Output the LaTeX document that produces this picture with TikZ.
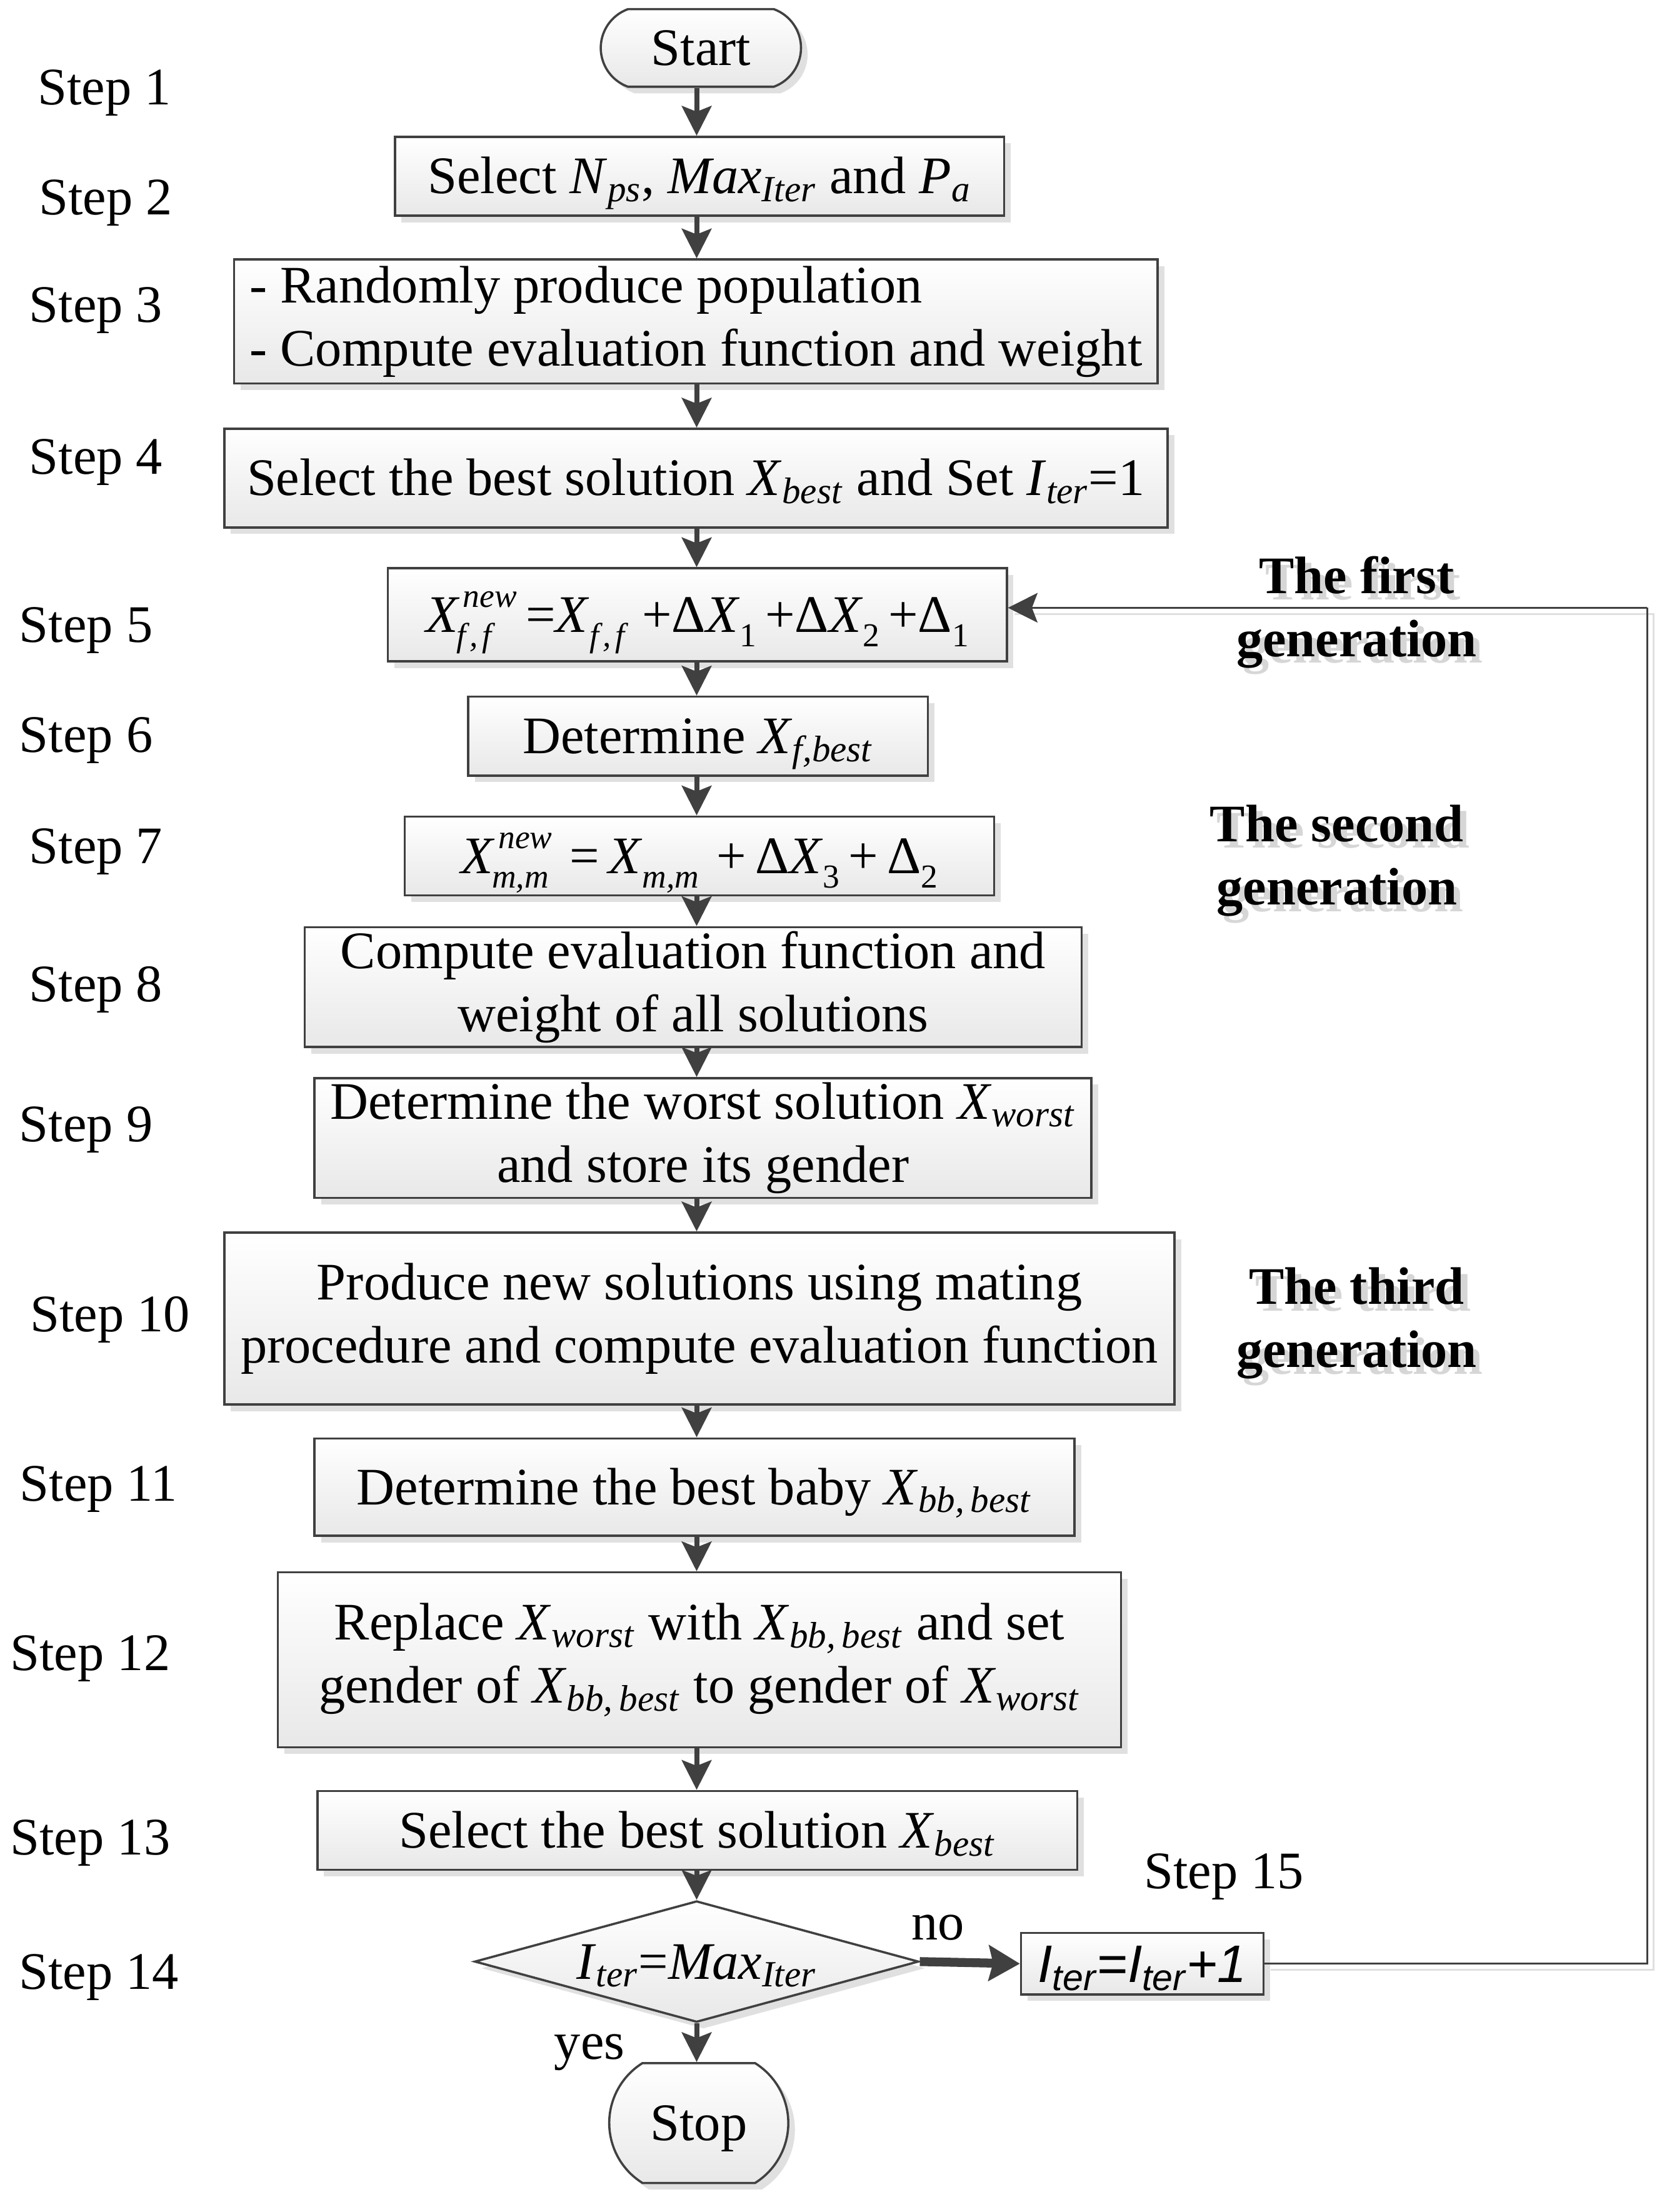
\documentclass[tikz,border=0pt]{standalone}
\usepackage{fontspec}
\setmainfont{Liberation Serif}
\setsansfont{Liberation Sans}
\usetikzlibrary{shapes.geometric,shapes.misc,shadows,arrows.meta}
\definecolor{edge}{HTML}{404040}
\newsavebox\ssA
\newsavebox\ssB
\newcommand\xs[2]{\textit{#1}\textsubscript{\textit{#2}}}
\newcommand\fsub[1]{\raisebox{-0.27em}{\fontsize{13.5}{13.5}\selectfont\itshape #1}}
\newcommand\fsubr[1]{\raisebox{-0.27em}{\fontsize{13.5}{13.5}\selectfont #1}}
\newcommand\fsup[1]{\raisebox{0.47em}{\fontsize{13.5}{13.5}\selectfont\itshape #1}}
\newcommand\fss[3]{\textit{#1}\sbox\ssA{\kern0.06em\fsup{#2}}\sbox\ssB{\kern-0.06em\fsub{#3}}\ifdim\wd\ssA>\wd\ssB\rlap{\usebox\ssB}\usebox\ssA\else\rlap{\usebox\ssA}\usebox\ssB\fi}
\newcommand\diatext[1]{\raisebox{-7.05pt}[0pt][0pt]{\makebox[0pt]{#1}}}
\begin{document}
\begin{tikzpicture}[x=0.02cm,y=-0.02cm,
  every node/.style={font=\fontsize{21.3}{25.5}\selectfont, text=black},
  one/.style={text height=19.2pt, text depth=5.1pt},
  box/.style={draw=edge, line width=0.9pt, top color=white, bottom color=black!9,
    drop shadow={shadow xshift=0.094cm,shadow yshift=-0.094cm,fill=black!12,opacity=1},
    inner sep=0pt, align=center},
  arr/.style={draw=edge, line width=2pt, -{Stealth[length=0.42cm,width=0.42cm,inset=0.08cm]}},
  noarr/.style={draw=edge, line width=3.6pt, -{Stealth[length=0.44cm,width=0.5cm,inset=0.06cm]}},
  fb/.style={draw=edge, line width=0.8pt},
  fbshadow/.style={draw=black!12, line width=0.8pt},
  genlbl/.style={font=\fontsize{21.3}{25.5}\selectfont\bfseries, align=center},
  genshadow/.style={genlbl, text=black!16}
]
\useasboundingbox (0,0) rectangle (1175,1568.6);

% terminals and boxes
\node[box, one, rounded rectangle, rounded rectangle arc length=140, minimum width=2.84cm, minimum height=1.1cm] (start) at (497,34) {Start};
\node[box, one, minimum width=8.64cm, minimum height=1.12cm] (b2) at (496,125) {Select \xs{N}{ps}, \xs{Max}{Iter} and \xs{P}{a}};
\node[box, minimum width=13.1cm, minimum height=1.76cm, align=left] (b3) at (493.5,228) {- Randomly produce population\\- Compute evaluation function and weight};
\node[box, one, minimum width=13.38cm, minimum height=1.4cm] (b4) at (493.5,339) {Select the best solution \xs{X}{best} and Set \xs{I}{ter}=1};
\node[box, one, minimum width=8.78cm, minimum height=1.32cm] (b5) at (494.5,436) {\fss{X}{new}{f\kern0.12em,\kern0.12em f}\,=\textit{X}\fsub{f\kern0.12em,\kern0.12em f}\,\,+Δ\textit{X}\fsubr{1}\,+Δ\textit{X}\fsubr{2}\,+Δ\fsubr{1}};
\node[box, one, minimum width=6.52cm, minimum height=1.12cm] (b6) at (495,522) {Determine \xs{X}{f,best}};
\node[box, one, minimum width=8.36cm, minimum height=1.12cm] (b7) at (496,607) {\fss{X}{new}{m,m}\,\,=\,\textit{X}\fsub{m,m}\,\,+\,Δ\textit{X}\fsubr{3}\,+\,Δ\fsubr{2}};
\node[box, minimum width=11.02cm, minimum height=1.7cm] (b8) at (491.5,700) {Compute evaluation function and\\weight of all solutions};
\node[box, minimum width=11.02cm, minimum height=1.7cm] (b9) at (498.5,807) {Determine the worst solution \xs{X}{worst}\\and store its gender};
\node[box, minimum width=13.48cm, minimum height=2.44cm] (b10) at (496,935) {Produce new solutions using mating\\procedure and compute evaluation function};
\node[box, one, minimum width=10.78cm, minimum height=1.38cm] (b11) at (492.5,1054.5) {Determine the best baby \xs{X}{bb,\,best}};
\node[box, minimum width=11.96cm, minimum height=2.48cm] (b12) at (496,1177) {Replace \xs{X}{worst} with \xs{X}{bb,\,best} and set\\gender of \xs{X}{bb,\,best} to gender of \xs{X}{worst}};
\node[box, one, minimum width=10.78cm, minimum height=1.12cm] (b13) at (494.5,1298) {Select the best solution \xs{X}{best}};
\node[box, diamond, aspect=3.66, minimum width=6.3cm, minimum height=1.72cm] (dia) at (494,1391) {\diatext{\xs{I}{ter}=\xs{Max}{Iter}}};
\node[box, text height=20pt, text depth=4.8pt, minimum width=3.44cm, minimum height=0.86cm, font=\fontsize{21.3}{25.5}\selectfont\sffamily\itshape] (b15) at (810,1392.5) {I\textsubscript{ter}=I\textsubscript{ter}+1};
\node[box, one, rounded rectangle, rounded rectangle arc length=116, minimum width=2.54cm, minimum height=1.7cm] (stop) at (495.5,1505.5) {Stop};

% step labels
\node[one] (s1) at (74,62) {Step 1};
\node[one] (s2) at (75,140) {Step 2};
\node[one] (s3) at (68,216) {Step 3};
\node[one] (s4) at (68,324) {Step 4};
\node[one] (s5) at (61,443) {Step 5};
\node[one] (s6) at (61,521) {Step 6};
\node[one] (s7) at (68,600) {Step 7};
\node[one] (s8) at (68,698) {Step 8};
\node[one] (s9) at (61,797) {Step 9};
\node[one] (s10) at (78,932) {Step 10};
\node[one] (s11) at (70,1052) {Step 11};
\node[one] (s12) at (64,1172) {Step 12};
\node[one] (s13) at (64,1303) {Step 13};
\node[one] (s14) at (70,1398) {Step 14};
\node[one] (s15) at (868,1327) {Step 15};

% generation labels with shadow
\node[genshadow] (g1s) at ([xshift=0.09cm,yshift=-0.09cm]962,434) {The first\\generation};
\node[genlbl] (g1) at (962,434) {The first\\generation};
\node[genshadow] (g2s) at ([xshift=0.09cm,yshift=-0.09cm]948,610.5) {The second\\generation};
\node[genlbl] (g2) at (948,610.5) {The second\\generation};
\node[genshadow] (g3s) at ([xshift=0.09cm,yshift=-0.09cm]962,938.5) {The third\\generation};
\node[genlbl] (g3) at (962,938.5) {The third\\generation};

% branch labels
\node[one] (no) at (665,1363) {no};
\node[one] (yes) at (418,1448) {yes};

% main arrows
\coordinate (ax) at (494,0);
\draw[arr] (ax |- start.south) -- (ax |- b2.north);
\draw[arr] (ax |- b2.south) -- (ax |- b3.north);
\draw[arr] (ax |- b3.south) -- (ax |- b4.north);
\draw[arr] (ax |- b4.south) -- (ax |- b5.north);
\draw[arr] (ax |- b5.south) -- (ax |- b6.north);
\draw[arr] (ax |- b6.south) -- (ax |- b7.north);
\draw[arr] (ax |- b7.south) -- (ax |- b8.north);
\draw[arr] (ax |- b8.south) -- (ax |- b9.north);
\draw[arr] (ax |- b9.south) -- (ax |- b10.north);
\draw[arr] (ax |- b10.south) -- (ax |- b11.north);
\draw[arr] (ax |- b11.south) -- (ax |- b12.north);
\draw[arr] (ax |- b12.south) -- (ax |- b13.north);
\draw[arr] (ax |- b13.south) -- (dia.north);
\draw[arr] (dia.south) -- (ax |- stop.north);
\draw[noarr] (dia.east) -- (b15.west);

% feedback loop
\coordinate (fbr) at (1168,1392.5);
\coordinate (fbt) at (1168,431);
\draw[fbshadow] ([xshift=0.09cm,yshift=-0.09cm]b15.east) -- ([xshift=0.09cm,yshift=-0.09cm]fbr) -- ([xshift=0.09cm,yshift=-0.09cm]fbt) -- ([xshift=0.09cm,yshift=-0.09cm]fbt -| b5.east);
\draw[fb] (b15.east) -- (fbr) -- (fbt);
\draw[fb, -{Stealth[length=0.42cm,width=0.42cm,inset=0.08cm]}] (fbt) -- (fbt -| b5.east);
\end{tikzpicture}
\end{document}
